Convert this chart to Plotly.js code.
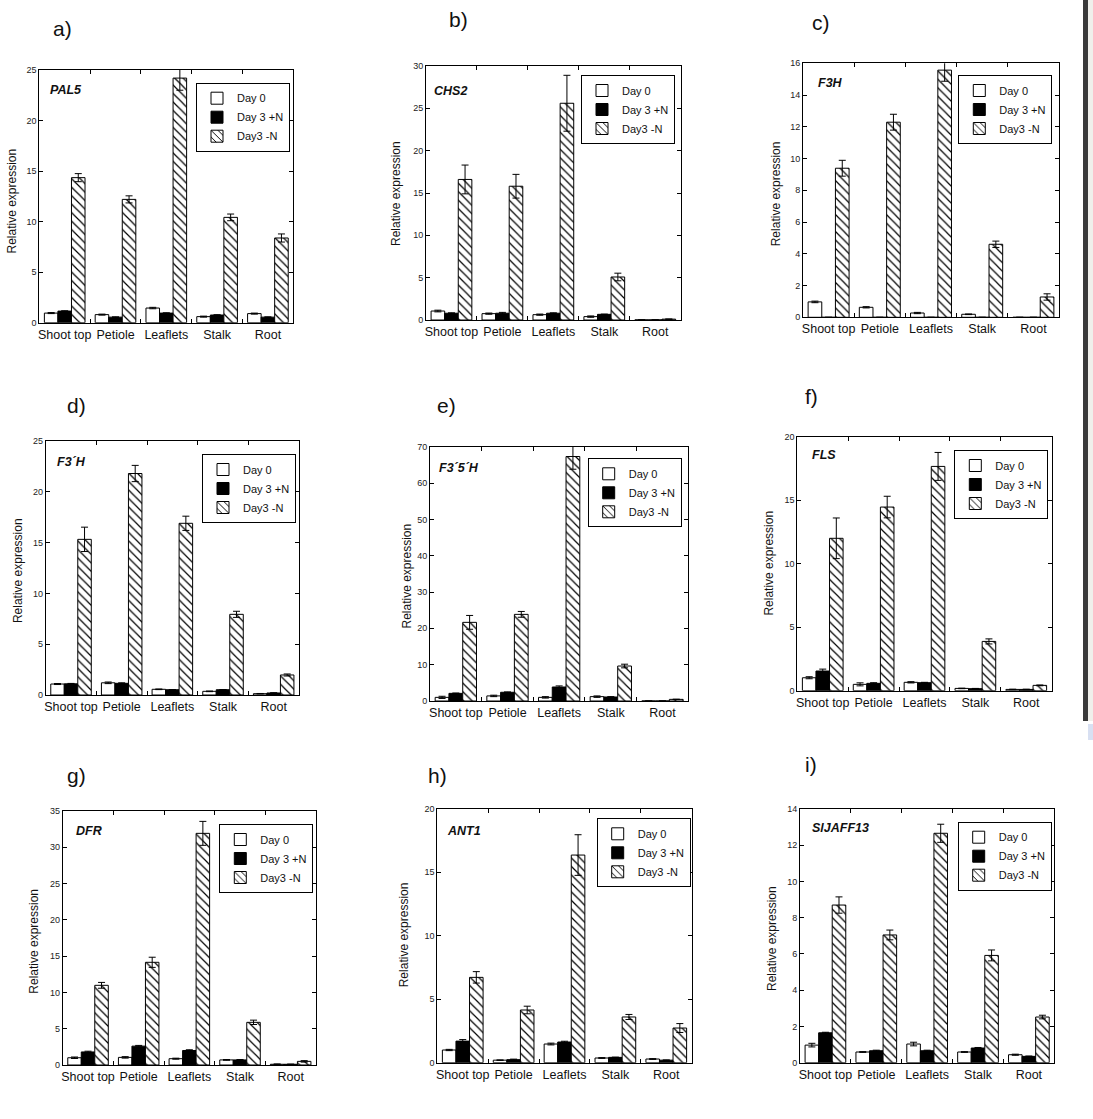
<!DOCTYPE html>
<html><head><meta charset="utf-8">
<script src="https://cdn.plot.ly/plotly-3.0.1.min.js"></script>
<style>html,body{margin:0;padding:0;background:#fff;} #chart{width:1093px;height:1119px;}</style>
</head><body><div id="chart"></div>
<script>
// ---------- data ----------
const categories = ["Shoot top", "Petiole", "Leaflets", "Stalk", "Root"];
const seriesNames = ["Day 0", "Day 3 +N", "Day3 -N"];
const panelLetters = ["a)", "b)", "c)", "d)", "e)", "f)", "g)", "h)", "i)"];
const geneNames = ["PAL5", "CHS2", "F3H", "F3´H", "F3´5´H", "FLS", "DFR", "ANT1", "SlJAFF13"];
const yAxisTitle = "Relative expression";
const yMax = [25, 30, 16, 25, 70, 20, 35, 20, 14];
const yStep = [5, 5, 2, 5, 10, 5, 5, 5, 2];

// a) PAL5
const pal5Day0 = [0.95, 0.8, 1.45, 0.6, 0.9];
const pal5Day0Err = [0.05, 0.05, 0.07, 0.05, 0.05];
const pal5Day3P = [1.15, 0.55, 0.95, 0.76, 0.55];
const pal5Day3PErr = [0.03, 0.03, 0.03, 0.03, 0.03];
const pal5Day3M = [14.35, 12.2, 24.2, 10.42, 8.38];
const pal5Day3MErr = [0.4, 0.35, 1.2, 0.33, 0.4];
// b) CHS2
const chs2Day0 = [1.06, 0.75, 0.63, 0.4, 0.01];
const chs2Day0Err = [0.1, 0.07, 0.07, 0.08, 0];
const chs2Day3P = [0.8, 0.8, 0.8, 0.67, 0.01];
const chs2Day3PErr = [0.05, 0.1, 0.05, 0.03, 0];
const chs2Day3M = [16.6, 15.8, 25.6, 5.08, 0.1];
const chs2Day3MErr = [1.7, 1.4, 3.3, 0.45, 0];
// c) F3H
const f3hDay0 = [0.97, 0.63, 0.27, 0.19, 0];
const f3hDay0Err = [0.05, 0.04, 0.04, 0.02, 0];
const f3hDay3P = [0, 0, 0, 0, 0];
const f3hDay3PErr = [0, 0, 0, 0, 0];
const f3hDay3M = [9.39, 12.29, 15.57, 4.6, 1.28];
const f3hDay3MErr = [0.5, 0.5, 0.7, 0.2, 0.2];
// d) F3'H
const f3phDay0 = [1.08, 1.2, 0.56, 0.36, 0.13];
const f3phDay0Err = [0.05, 0.08, 0.03, 0.03, 0.02];
const f3phDay3P = [1.1, 1.15, 0.52, 0.52, 0.2];
const f3phDay3PErr = [0.04, 0.05, 0.02, 0.02, 0.02];
const f3phDay3M = [15.32, 21.8, 16.9, 7.94, 1.97];
const f3phDay3MErr = [1.2, 0.8, 0.7, 0.3, 0.1];
// e) F3'5'H
const f35hDay0 = [1.0, 1.4, 1.0, 1.2, 0];
const f35hDay0Err = [0.3, 0.2, 0.2, 0.2, 0];
const f35hDay3P = [2.1, 2.4, 3.85, 1.1, 0];
const f35hDay3PErr = [0.1, 0.1, 0.3, 0.1, 0];
const f35hDay3M = [21.65, 23.85, 67.3, 9.63, 0.45];
const f35hDay3MErr = [1.9, 0.8, 3.5, 0.5, 0.05];
// f) FLS
const flsDay0 = [1.02, 0.5, 0.66, 0.18, 0.1];
const flsDay0Err = [0.08, 0.12, 0.05, 0.02, 0.02];
const flsDay3P = [1.55, 0.58, 0.63, 0.16, 0.1];
const flsDay3PErr = [0.15, 0.05, 0.03, 0.02, 0.02];
const flsDay3M = [12.0, 14.46, 17.66, 3.88, 0.42];
const flsDay3MErr = [1.6, 0.85, 1.1, 0.2, 0.03];
// g) DFR
const dfrDay0 = [1.0, 1.05, 0.87, 0.7, 0.1];
const dfrDay0Err = [0.1, 0.1, 0.07, 0.05, 0.05];
const dfrDay3P = [1.8, 2.6, 2.0, 0.7, 0.1];
const dfrDay3PErr = [0.1, 0.1, 0.1, 0.05, 0.03];
const dfrDay3M = [10.98, 14.15, 31.92, 5.88, 0.5];
const dfrDay3MErr = [0.4, 0.7, 1.65, 0.3, 0.1];
// h) ANT1
const ant1Day0 = [1.0, 0.2, 1.47, 0.37, 0.29];
const ant1Day0Err = [0.05, 0.02, 0.07, 0.03, 0.03];
const ant1Day3P = [1.7, 0.24, 1.63, 0.42, 0.2];
const ant1Day3PErr = [0.12, 0.04, 0.06, 0.02, 0.02];
const ant1Day3M = [6.72, 4.15, 16.35, 3.6, 2.73];
const ant1Day3MErr = [0.45, 0.3, 1.6, 0.2, 0.35];
// i) SlJAFF13
const jaffDay0 = [0.97, 0.59, 1.03, 0.59, 0.44];
const jaffDay0Err = [0.1, 0.02, 0.1, 0.02, 0.03];
const jaffDay3P = [1.65, 0.66, 0.66, 0.81, 0.35];
const jaffDay3PErr = [0.03, 0.03, 0.03, 0.03, 0.02];
const jaffDay3M = [8.7, 7.05, 12.66, 5.92, 2.52];
const jaffDay3MErr = [0.45, 0.27, 0.5, 0.3, 0.1];

const panelValues = [
  [pal5Day0, pal5Day3P, pal5Day3M], [chs2Day0, chs2Day3P, chs2Day3M], [f3hDay0, f3hDay3P, f3hDay3M],
  [f3phDay0, f3phDay3P, f3phDay3M], [f35hDay0, f35hDay3P, f35hDay3M], [flsDay0, flsDay3P, flsDay3M],
  [dfrDay0, dfrDay3P, dfrDay3M], [ant1Day0, ant1Day3P, ant1Day3M], [jaffDay0, jaffDay3P, jaffDay3M]
];
const panelErrors = [
  [pal5Day0Err, pal5Day3PErr, pal5Day3MErr], [chs2Day0Err, chs2Day3PErr, chs2Day3MErr], [f3hDay0Err, f3hDay3PErr, f3hDay3MErr],
  [f3phDay0Err, f3phDay3PErr, f3phDay3MErr], [f35hDay0Err, f35hDay3PErr, f35hDay3MErr], [flsDay0Err, flsDay3PErr, flsDay3MErr],
  [dfrDay0Err, dfrDay3PErr, dfrDay3MErr], [ant1Day0Err, ant1Day3PErr, ant1Day3MErr], [jaffDay0Err, jaffDay3PErr, jaffDay3MErr]
];

// ---------- layout (pixel geometry) ----------
const W = 1093, H = 1119;
// plot boxes: left, right, top, bottom (px)
const boxes = [
  [39.3, 293.3, 70, 322.7], [426, 680.7, 66, 320], [803, 1059, 63.3, 317.3],
  [45.7, 299, 441, 695], [430, 688.3, 446.7, 701], [797.3, 1051.7, 436.7, 690.7],
  [62.7, 316, 811, 1065], [437.3, 691.7, 808.7, 1062.7], [800, 1054.3, 809, 1062.7]
];
const legendPos = [ [290, 82.7], [675, 75], [1052.3, 75], [296, 454], [681.7, 458.3], [1048.3, 450], [313.3, 824], [690.7, 818.3], [1051.7, 821.7] ];
const letterPos = [ [62, 28], [458, 20], [821, 23], [76, 405], [446, 406], [811, 397], [76, 775], [437, 775], [811, 764] ];
const genePos = [ [9, 20], [6.3, 25], [13, 19.5], [9.3, 21.3], [7.3, 20.8], [12.7, 18.3], [11.3, 20], [7.7, 22.6], [10, 18.5] ];
const yTitlePos = [ [11.7, 200.8], [396.7, 193.3], [776.3, 194], [17.3, 570.8], [406.7, 575.8], [769.3, 563.3], [34, 941.7], [404.3, 935], [772.7, 938.3] ];

const px = v => v / W;
const py = v => 1 - v / H;

const markerStyles = [
  {color: '#ffffff', line: {color: '#000', width: 1}},
  {color: '#000000', line: {color: '#000', width: 1}},
  {color: '#ffffff', line: {color: '#000', width: 1},
   pattern: {shape: '\\', fgcolor: '#000', bgcolor: '#fff', size: 6, solidity: 0.2, fillmode: 'replace'}}
];

const font = 'Liberation Sans, Arial, Helvetica, sans-serif';
const traces = [];
const layout = {
  width: W, height: H, margin: {l: 0, r: 0, t: 0, b: 0},
  paper_bgcolor: '#fff', plot_bgcolor: '#fff',
  barmode: 'group', bargap: 0.2, bargroupgap: 0,
  font: {family: font, color: '#111'},
  showlegend: true, annotations: [], shapes: []
};

for (let i = 0; i < 9; i++) {
  const sfx = i === 0 ? '' : String(i + 1);
  const legKey = 'legend' + sfx;
  const [l, r, t, b] = boxes[i];
  for (let s = 0; s < 3; s++) {
    traces.push({
      type: 'bar', name: seriesNames[s], x: categories, y: panelValues[i][s],
      xaxis: 'x' + sfx, yaxis: 'y' + sfx, legend: legKey,
      marker: markerStyles[s],
      error_y: {type: 'data', array: panelErrors[i][s], visible: true, color: '#000', thickness: 1, width: 3.5},
      hoverinfo: 'skip'
    });
  }
  layout['xaxis' + sfx] = {
    domain: [px(l), px(r)], anchor: 'y' + sfx, type: 'category',
    categoryorder: 'array', categoryarray: categories,
    showline: true, linecolor: '#000', linewidth: 1, mirror: 'ticks',
    ticks: 'inside', ticklen: 4, tickcolor: '#000', tickwidth: 1, tickson: 'boundaries',
    tickangle: 0, tickfont: {size: 12.5, color: '#111', family: font},
    showgrid: false, zeroline: false, fixedrange: true
  };
  layout['yaxis' + sfx] = {
    domain: [py(b), py(t)], anchor: 'x' + sfx, range: [0, yMax[i]], tick0: 0, dtick: yStep[i],
    showline: true, linecolor: '#000', linewidth: 1, mirror: 'ticks',
    ticks: 'inside', ticklen: 4, tickcolor: '#000', tickwidth: 1,
    tickfont: {size: 9, color: '#222', family: font},
    showgrid: false, zeroline: false, fixedrange: true
  };
  layout[legKey] = {
    x: px(legendPos[i][0]), xanchor: 'right', y: py(legendPos[i][1]), yanchor: 'top',
    bgcolor: '#fff', bordercolor: '#000', borderwidth: 1,
    font: {size: 11, color: '#111', family: font}, tracegroupgap: 0,
    itemclick: false, itemdoubleclick: false
  };
  layout.annotations.push({
    xref: 'paper', yref: 'paper', x: px(letterPos[i][0]), y: py(letterPos[i][1]),
    xanchor: 'center', yanchor: 'middle', showarrow: false, text: panelLetters[i],
    font: {size: 21, color: '#111', family: font}
  });
  layout.annotations.push({
    xref: 'paper', yref: 'paper', x: px(l + genePos[i][0]), y: py(t + genePos[i][1]),
    xanchor: 'left', yanchor: 'middle', showarrow: false, text: geneNames[i],
    font: {size: 12.5, color: '#111', family: font, style: 'italic', weight: 'bold'}
  });
  layout.annotations.push({
    xref: 'paper', yref: 'paper', x: px(yTitlePos[i][0]), y: py(yTitlePos[i][1]),
    xanchor: 'center', yanchor: 'middle', showarrow: false, text: yAxisTitle, textangle: -90,
    font: {size: 12, color: '#111', family: font}
  });
}

// window edge strip (part of the screenshot)
layout.shapes.push({type: 'rect', xref: 'paper', yref: 'paper', x0: px(1083), x1: px(1088), y0: py(721), y1: 1, fillcolor: '#3a3a3a', line: {width: 0}, layer: 'below'});
layout.shapes.push({type: 'rect', xref: 'paper', yref: 'paper', x0: px(1088), x1: 1, y0: py(721), y1: 1, fillcolor: '#f0efeb', line: {width: 0}, layer: 'below'});
layout.shapes.push({type: 'rect', xref: 'paper', yref: 'paper', x0: px(1088), x1: 1, y0: py(740), y1: py(724), fillcolor: '#d8e0f2', line: {width: 0}, layer: 'below'});

Plotly.newPlot('chart', traces, layout, {displayModeBar: false, staticPlot: true});
</script>
</body></html>
